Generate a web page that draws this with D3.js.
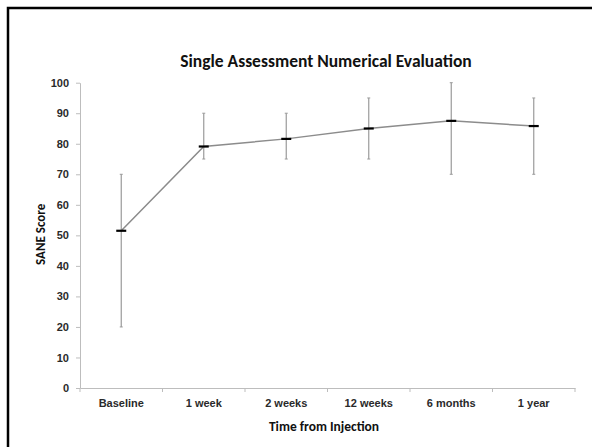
<!DOCTYPE html>
<html>
<head>
<meta charset="utf-8">
<script src="https://cdn.jsdelivr.net/npm/d3@7"></script>
<style>
  html, body { margin: 0; padding: 0; background: #fff; }
  svg { display: block; font-family: Carlito, "Open Sans", Lato, sans-serif; }
</style>
</head>
<body>
<svg id="chart"></svg>
<script>
const categories = ["Baseline", "1 week", "2 weeks", "12 weeks", "6 months", "1 year"];
const means = [51.5, 79.1, 81.6, 85.0, 87.5, 85.8];
const upper = [70, 90, 90, 95, 100, 95];
const lower = [20, 75, 75, 75, 70, 70];
const yTicks = [0, 10, 20, 30, 40, 50, 60, 70, 80, 90, 100];

const width = 592, height = 447;
const margin = { top: 82.7, right: 17, bottom: 59, left: 80 };

const svg = d3.select("#chart")
    .attr("width", width)
    .attr("height", height);

// outer frame
svg.append("rect")
    .attr("x", 8).attr("y", 8)
    .attr("width", width + 10).attr("height", height + 10)
    .attr("fill", "none")
    .attr("stroke", "#000")
    .attr("stroke-width", 2.5);

const x = d3.scaleBand()
    .domain(categories)
    .range([margin.left, width - margin.right]);

const y = d3.scaleLinear()
    .domain([0, 100])
    .range([height - margin.bottom, margin.top]);

const axisColor = "#bdbdbd";
const textColor = "#2a2a2a";

// y axis
const yAxis = svg.append("g")
    .attr("transform", `translate(${margin.left},0)`)
    .call(d3.axisLeft(y).tickValues(yTicks).tickSize(4).tickPadding(7).tickSizeOuter(0));
yAxis.select(".domain").attr("stroke", axisColor);
yAxis.selectAll(".tick line").attr("stroke", axisColor);
yAxis.selectAll(".tick text")
    .attr("fill", textColor)
    .style("font-size", "11px")
    .style("font-weight", "bold");

// x axis
const xAxis = svg.append("g")
    .attr("transform", `translate(0,${height - margin.bottom})`)
    .call(d3.axisBottom(x).tickSize(0).tickPadding(11));
xAxis.select(".domain").attr("stroke", axisColor);
xAxis.selectAll(".tick text")
    .attr("fill", textColor)
    .style("font-size", "11px")
    .style("font-weight", "bold");
// category boundary ticks
xAxis.selectAll(".bound")
    .data(categories.concat(["end"]))
    .join("line")
    .attr("class", "bound")
    .attr("x1", (d, i) => margin.left + i * x.step())
    .attr("x2", (d, i) => margin.left + i * x.step())
    .attr("y1", 0).attr("y2", 4)
    .attr("stroke", axisColor);

const cx = d => x(d) + x.bandwidth() / 2;

// connecting line
svg.append("path")
    .datum(categories)
    .attr("fill", "none")
    .attr("stroke", "#8c8c8c")
    .attr("stroke-width", 1.5)
    .attr("d", d3.line().x(d => cx(d)).y((d, i) => y(means[i])));

// error bars
const bars = svg.append("g").selectAll("g")
    .data(categories)
    .join("g");
bars.append("line")
    .attr("x1", d => cx(d)).attr("x2", d => cx(d))
    .attr("y1", (d, i) => y(upper[i])).attr("y2", (d, i) => y(lower[i]))
    .attr("stroke", "#9a9a9a").attr("stroke-width", 1.2);
bars.append("line")
    .attr("x1", d => cx(d) - 1.5).attr("x2", d => cx(d) + 1.5)
    .attr("y1", (d, i) => y(upper[i])).attr("y2", (d, i) => y(upper[i]))
    .attr("stroke", "#9a9a9a").attr("stroke-width", 1);
bars.append("line")
    .attr("x1", d => cx(d) - 1.5).attr("x2", d => cx(d) + 1.5)
    .attr("y1", (d, i) => y(lower[i])).attr("y2", (d, i) => y(lower[i]))
    .attr("stroke", "#9a9a9a").attr("stroke-width", 1);
// mean markers
bars.append("line")
    .attr("x1", d => cx(d) - 5).attr("x2", d => cx(d) + 5)
    .attr("y1", (d, i) => y(means[i])).attr("y2", (d, i) => y(means[i]))
    .attr("stroke", "#000").attr("stroke-width", 2.2);

// title
svg.append("text")
    .attr("x", 326).attr("y", 67)
    .attr("text-anchor", "middle")
    .attr("fill", "#111")
    .style("font-size", "17.5px")
    .style("font-weight", "bold")
    .text("Single Assessment Numerical Evaluation");

// axis titles
svg.append("text")
    .attr("x", 324).attr("y", 431)
    .attr("text-anchor", "middle")
    .attr("fill", "#111")
    .style("font-size", "13.5px")
    .style("font-weight", "bold")
    .text("Time from Injection");

svg.append("text")
    .attr("transform", `translate(45,${y(50) - 1}) rotate(-90)`)
    .attr("text-anchor", "middle")
    .attr("fill", "#111")
    .style("font-size", "13px")
    .style("font-weight", "bold")
    .text("SANE Score");
</script>
</body>
</html>
